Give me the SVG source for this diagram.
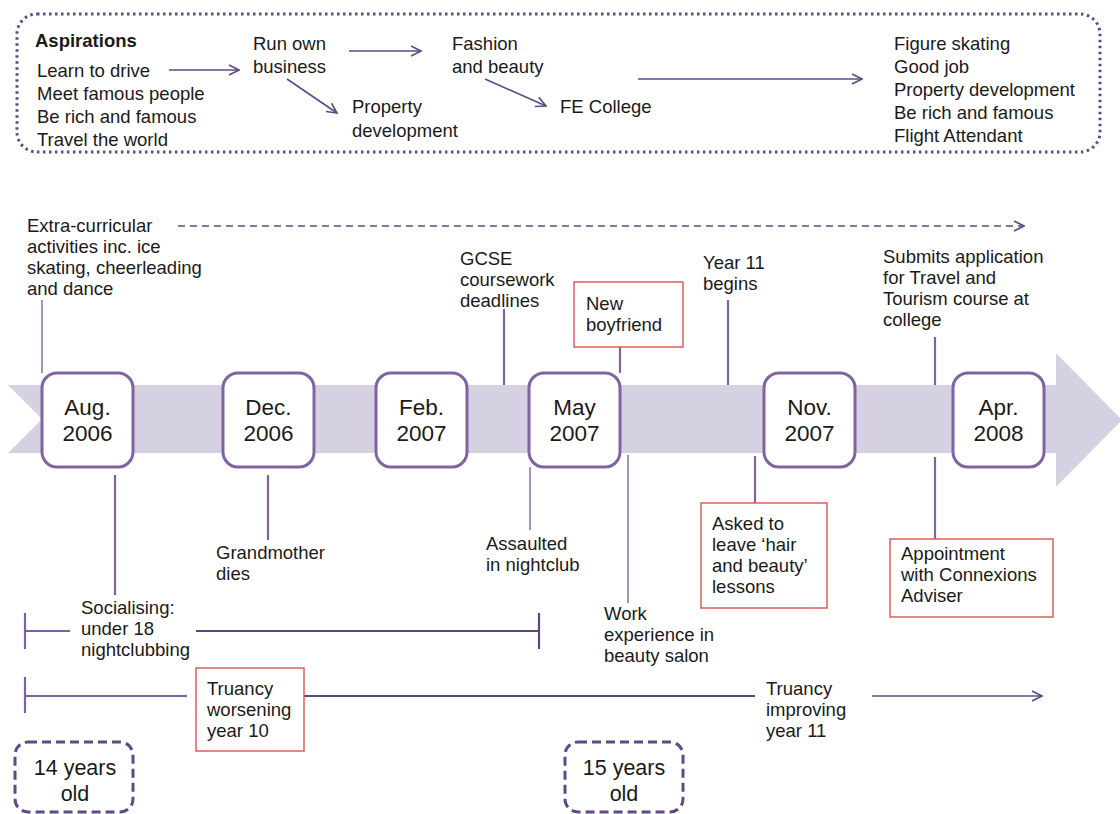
<svg xmlns="http://www.w3.org/2000/svg" width="1120" height="814" viewBox="0 0 1120 814">
<style>
text{font-family:"Liberation Sans",Arial,sans-serif;font-size:18.5px;fill:#1a1a1a}
.b{font-weight:bold}
.d{font-size:22.5px;text-anchor:middle}
.a{font-size:21.5px;text-anchor:middle}
.arr{stroke:#5f4a86;stroke-width:1.6;fill:none}
.co{stroke:#8064a2;stroke-width:2.2;fill:none}
.th{stroke:#8064a2;stroke-width:1.4;fill:none}
.date{fill:#fff;stroke:#8064a2;stroke-width:3}
.red{fill:#fff;stroke:#d9605c;stroke-width:1.5}
.age{fill:#fff;stroke:#5f4a86;stroke-width:3;stroke-dasharray:9 5}
.l1{stroke:#7e62a0;stroke-width:2.2;fill:none}
.l2{stroke:#5b4779;stroke-width:2.2;fill:none}
</style>
<defs>
<marker id="ah" viewBox="0 0 12 12" refX="11" refY="6" markerWidth="12" markerHeight="12" markerUnits="userSpaceOnUse" orient="auto">
<path d="M1,1 L11,6 L1,11" fill="none" stroke="#5f4a86" stroke-width="1.6"/>
</marker>
</defs>

<g id="aspirations">
<rect x="17" y="14" width="1083" height="138" rx="20" fill="none" stroke="#5f4a86" stroke-width="3" stroke-dasharray="2.5 3.5"/>
<text class="b" x="35" y="47">Aspirations</text>
<text x="37" y="77">Learn to drive</text>
<text x="37" y="100">Meet famous people</text>
<text x="37" y="123">Be rich and famous</text>
<text x="37" y="146">Travel the world</text>
</g>
<g id="run-own-business"><text x="253" y="50">Run own</text><text x="253" y="73">business</text></g>
<g id="fashion"><text x="452" y="50">Fashion</text><text x="452" y="73">and beauty</text></g>
<g id="property"><text x="352" y="113">Property</text><text x="352" y="137">development</text></g>
<g id="fe-college"><text x="560" y="113">FE College</text></g>
<g id="later-aspirations">
<text x="894" y="50">Figure skating</text>
<text x="894" y="73">Good job</text>
<text x="894" y="96">Property development</text>
<text x="894" y="119">Be rich and famous</text>
<text x="894" y="142">Flight Attendant</text>
</g>

<g id="timeline-band">
<path d="M8,385 L1056,385 L1056,353 L1122,420 L1056,487 L1056,453 L8,453 L42,419 Z" fill="#d5d1e2"/>
</g>

<g id="connectors">
<line class="arr" x1="169" y1="70" x2="239" y2="70" marker-end="url(#ah)"/>
<line class="arr" x1="349" y1="51" x2="421" y2="51" marker-end="url(#ah)"/>
<line class="arr" x1="287" y1="79" x2="337" y2="113" marker-end="url(#ah)"/>
<line class="arr" x1="485" y1="79" x2="546" y2="106" marker-end="url(#ah)"/>
<line class="arr" x1="638" y1="79" x2="862" y2="79" marker-end="url(#ah)"/>
<line class="arr" x1="178" y1="226" x2="1024" y2="226" stroke-dasharray="7 5" marker-end="url(#ah)" stroke="#7a62a0"/>
<line class="th" x1="42" y1="300" x2="42" y2="373"/>
<line class="co" x1="504" y1="309" x2="504" y2="385"/>
<line class="co" x1="620" y1="347" x2="620" y2="373"/>
<line class="co" x1="728" y1="300" x2="728" y2="385"/>
<line class="co" x1="935" y1="337" x2="935" y2="385"/>
<line class="co" x1="115" y1="475" x2="115" y2="595"/>
<line class="co" x1="268" y1="475" x2="268" y2="540"/>
<line class="th" x1="530" y1="467" x2="530" y2="530"/>
<line class="th" x1="628" y1="455" x2="628" y2="603"/>
<line class="co" x1="755" y1="456" x2="755" y2="503"/>
<line class="co" x1="935" y1="457" x2="935" y2="539"/>
<line class="l1" x1="25" y1="613" x2="25" y2="649"/>
<line class="l1" x1="25" y1="631" x2="70" y2="631"/>
<line class="l2" x1="196" y1="631" x2="539" y2="631"/>
<line class="l2" x1="539" y1="613" x2="539" y2="649"/>
<line class="l1" x1="25" y1="677" x2="25" y2="713"/>
<line class="l1" x1="25" y1="696" x2="187" y2="696"/>
<line class="l2" x1="304" y1="696" x2="755" y2="696"/>
<line class="arr" x1="872" y1="696" x2="1042" y2="696" marker-end="url(#ah)"/>
</g>

<g id="extra-curricular"><text x="27" y="232">Extra-curricular</text><text x="27" y="253">activities inc. ice</text><text x="27" y="274">skating, cheerleading</text><text x="27" y="295">and dance</text></g>
<g id="gcse"><text x="460" y="265">GCSE</text><text x="460" y="286">coursework</text><text x="460" y="307">deadlines</text></g>
<g id="new-boyfriend"><rect class="red" x="574" y="282" width="109" height="65"/><text x="586" y="310">New</text><text x="586" y="331">boyfriend</text></g>
<g id="year11"><text x="703" y="269">Year 11</text><text x="703" y="290">begins</text></g>
<g id="submits"><text x="883" y="263">Submits application</text><text x="883" y="284">for Travel and</text><text x="883" y="305">Tourism course at</text><text x="883" y="326">college</text></g>

<g id="aug-2006"><rect class="date" x="42" y="373" width="91" height="94" rx="15"/><text class="d" x="87.5" y="415">Aug.</text><text class="d" x="87.5" y="441">2006</text></g>
<g id="dec-2006"><rect class="date" x="223" y="373" width="91" height="94" rx="15"/><text class="d" x="268.5" y="415">Dec.</text><text class="d" x="268.5" y="441">2006</text></g>
<g id="feb-2007"><rect class="date" x="376" y="373" width="91" height="94" rx="15"/><text class="d" x="421.5" y="415">Feb.</text><text class="d" x="421.5" y="441">2007</text></g>
<g id="may-2007"><rect class="date" x="529" y="373" width="91" height="94" rx="15"/><text class="d" x="574.5" y="415">May</text><text class="d" x="574.5" y="441">2007</text></g>
<g id="nov-2007"><rect class="date" x="764" y="373" width="91" height="94" rx="15"/><text class="d" x="809.5" y="415">Nov.</text><text class="d" x="809.5" y="441">2007</text></g>
<g id="apr-2008"><rect class="date" x="953" y="373" width="91" height="94" rx="15"/><text class="d" x="998.5" y="415">Apr.</text><text class="d" x="998.5" y="441">2008</text></g>

<g id="grandmother"><text x="216" y="559">Grandmother</text><text x="216" y="580">dies</text></g>
<g id="assaulted"><text x="486" y="550">Assaulted</text><text x="486" y="571">in nightclub</text></g>
<g id="socialising"><text x="81" y="614">Socialising:</text><text x="81" y="635">under 18</text><text x="81" y="656">nightclubbing</text></g>
<g id="work-experience"><text x="604" y="620">Work</text><text x="604" y="641">experience in</text><text x="604" y="662">beauty salon</text></g>
<g id="asked-to-leave"><rect class="red" x="701" y="503" width="126" height="105"/><text x="712" y="530">Asked to</text><text x="712" y="551">leave ‘hair</text><text x="712" y="572">and beauty’</text><text x="712" y="593">lessons</text></g>
<g id="appointment"><rect class="red" x="890" y="539" width="163" height="78"/><text x="901" y="560">Appointment</text><text x="901" y="581">with Connexions</text><text x="901" y="602">Adviser</text></g>
<g id="truancy-worsening"><rect class="red" x="196" y="668" width="108" height="83"/><text x="207" y="695">Truancy</text><text x="207" y="716">worsening</text><text x="207" y="737">year 10</text></g>
<g id="truancy-improving"><text x="766" y="695">Truancy</text><text x="766" y="716">improving</text><text x="766" y="737">year 11</text></g>

<g id="age-14"><rect class="age" x="15" y="742" width="118" height="70" rx="13"/><text class="a" x="75" y="775">14 years</text><text class="a" x="75" y="801">old</text></g>
<g id="age-15"><rect class="age" x="565" y="742" width="118" height="70" rx="13"/><text class="a" x="624" y="775">15 years</text><text class="a" x="624" y="801">old</text></g>
</svg>
